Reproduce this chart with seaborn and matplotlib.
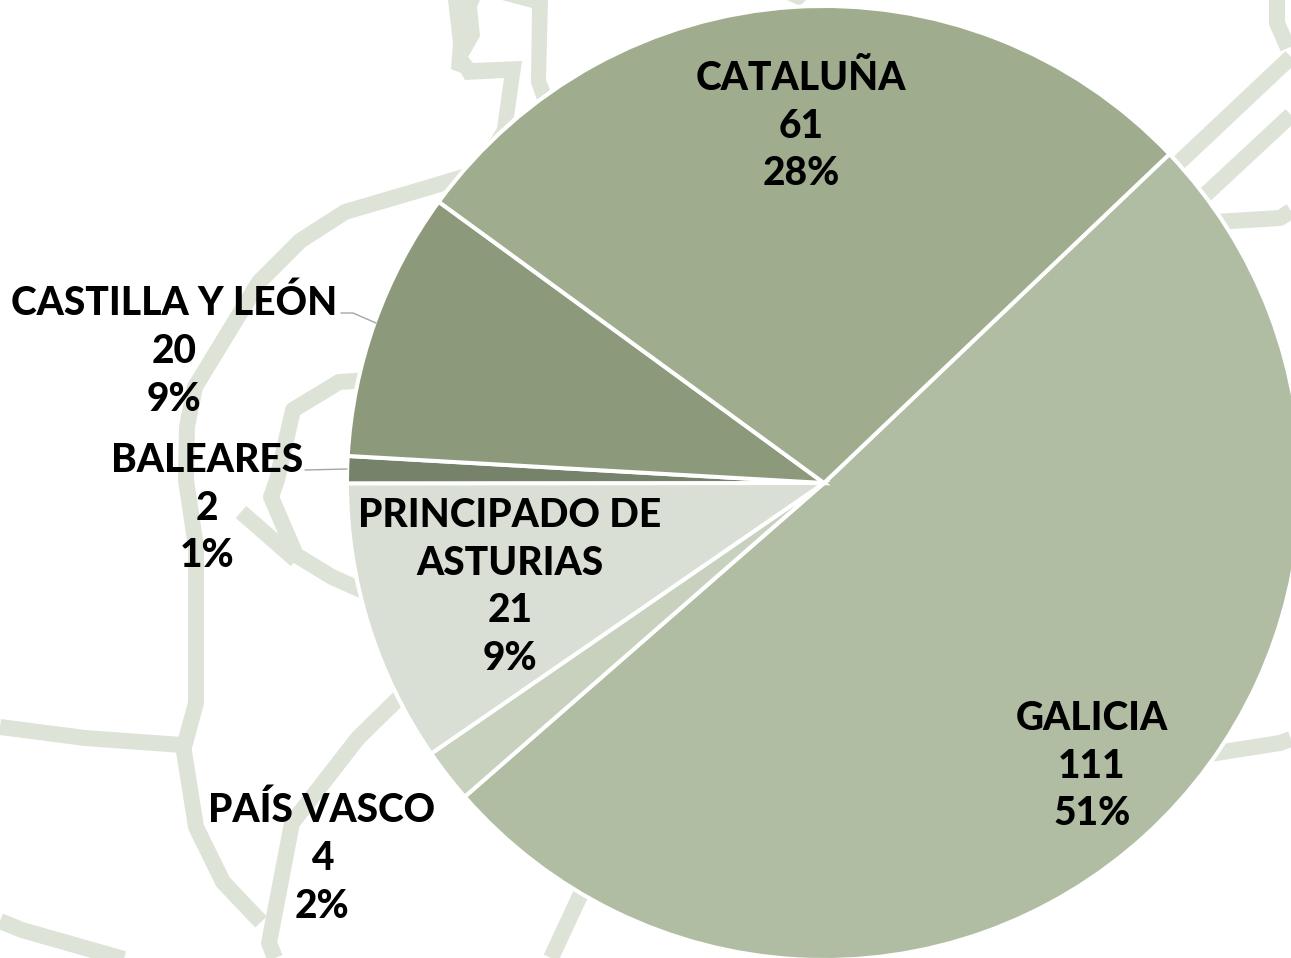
import matplotlib
matplotlib.use("Agg")
import matplotlib.pyplot as plt
import seaborn as sns

W, H = 1291, 958

# pie data, clockwise from the Galicia wedge
regions = ["GALICIA", "PAÍS VASCO", "PRINCIPADO DE\nASTURIAS", "BALEARES", "CASTILLA Y LEÓN", "CATALUÑA"]
counts = [111, 4, 21, 2, 20, 61]
percents = ["51%", "2%", "9%", "1%", "9%", "28%"]
colors = ["#B0BDA2", "#C8D1BE", "#D9DFD4", "#76836A", "#8C997B", "#9FAC8E"]

# label centres in image pixels
label_x = [1092, 322, 510, 207, 174, 801]
label_y = [766, 858, 587, 508, 351, 126]

# pale map outlines behind the pie, image pixels
map_lines = [
    [(480, 172), (420, 190), (345, 212), (300, 241), (259, 282), (195, 387), (187, 427), (186, 480),
     (196, 547), (196, 703), (184, 747)],
    [(0, 727), (85, 738), (182, 745)],
    [(183, 745), (196, 827), (223, 882), (261, 922)],
    [(405, 692), (358, 738), (292, 823), (269, 943), (275, 958)],
    [(0, 921), (22, 930), (180, 975)],
    [(370, 380), (339, 382), (293, 410), (277, 480), (271, 497), (296, 555), (332, 577), (370, 594)],
    [(241, 512), (296, 560)],
    [(585, 885), (551, 958)],
    [(1170, 171), (1291, 57)],
    [(1190, 209), (1291, 115)],
    [(1215, 222), (1280, 218), (1291, 211)],
    [(1277, 0), (1277, 23), (1288, 48)],
    [(1210, 754), (1280, 743), (1291, 739)],
]
map_shapes = [
    [(448, 0), (453, 43), (451, 69), (461, 73), (465, 80), (504, 78), (497, 128), (488, 143), (514, 117),
     (522, 61), (473, 63), (468, 57), (471, 52), (480, 36), (477, 7), (480, 0)],
    [(502, 0), (532, 8), (531, 83), (537, 100), (550, 90), (546, 80), (548, 0)],
    [(787, 0), (800, 6), (806, 0)],
]
leaders = [
    [(341, 313), (353, 313), (376, 323)],
    [(305, 470), (347, 469)],
]

sns.set_theme(style="white")
plt.rcParams["font.family"] = ["Lato", "DejaVu Sans"]

fig = plt.figure(figsize=(W / 100, H / 100), dpi=100)
ax = fig.add_axes([0, 0, 1, 1])

for line in map_lines:
    sns.lineplot(x=[p[0] for p in line], y=[H - p[1] for p in line], sort=False, estimator=None,
                 color="#DDE3D7", linewidth=11.5, solid_capstyle="butt", ax=ax, zorder=1)
for shape in map_shapes:
    ax.fill([p[0] for p in shape], [H - p[1] for p in shape], color="#DDE3D7", lw=0, zorder=1)

ax.pie(counts, colors=colors, startangle=43.6, counterclock=False, center=(824, H - 483), radius=477,
       wedgeprops={"edgecolor": "white", "linewidth": 2.9, "zorder": 2})

for line in leaders:
    sns.lineplot(x=[p[0] for p in line], y=[H - p[1] for p in line], sort=False, estimator=None,
                 color="#A6A6A6", linewidth=1, ax=ax, zorder=3)

for name, n, pct, x, y in zip(regions, counts, percents, label_x, label_y):
    ax.text(x, H - y, f"{name}\n{n}\n{pct}", ha="center", va="center", fontsize=28, fontweight="black",
            color="black", linespacing=1.36, zorder=4)

ax.set_xlim(0, W)
ax.set_ylim(0, H)
ax.axis("off")

fig.savefig("out.png", dpi=100)
